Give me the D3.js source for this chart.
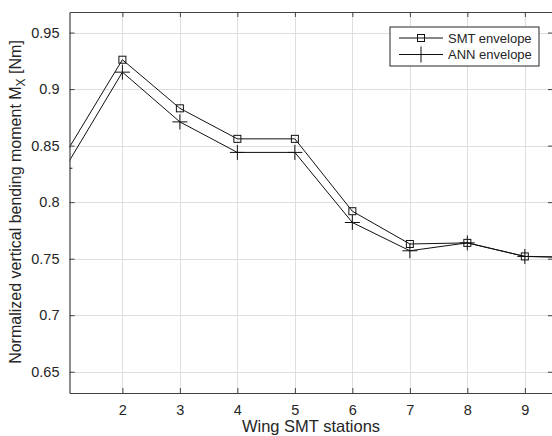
<!DOCTYPE html>
<html>
<head>
  <meta charset="utf-8">
  <title>SMT vs ANN envelope</title>
  <script src="https://d3js.org/d3.v7.min.js"></script>
  <style>
    body { margin: 0; background: #fff; }
    text { font-family: "Liberation Sans", Arial, sans-serif; fill: #262626; }
  </style>
</head>
<body>
  <script>
    // stations 1..10 (figure is cropped on both sides)
    var stations = [1, 2, 3, 4, 5, 6, 7, 8, 9, 10];
    var smtEnvelope = [0.842, 0.926, 0.883, 0.856, 0.856, 0.792, 0.763, 0.764, 0.752, 0.751];
    var annEnvelope = [0.830, 0.915, 0.871, 0.844, 0.844, 0.782, 0.757, 0.764, 0.752, 0.751];
    var xTicks = [2, 3, 4, 5, 6, 7, 8, 9];
    var yTicks = [0.65, 0.7, 0.75, 0.8, 0.85, 0.9, 0.95];

    var width = 552, height = 436;
    var pLeft = 69.5, pRight = 553, pTop = 12, pBottom = 393;

    var svg = d3.select('body').append('svg')
      .attr('width', width)
      .attr('height', height);

    var x = d3.scaleLinear().domain([1.08, 9.49]).range([pLeft, pRight]);
    var y = d3.scaleLinear().domain([0.6312, 0.9682]).range([pBottom, pTop]);

    // grid
    var grid = svg.append('g').attr('stroke', '#dedede').attr('stroke-width', 1);
    xTicks.forEach(function(t) {
      grid.append('line')
        .attr('x1', Math.round(x(t)) + 0.5).attr('x2', Math.round(x(t)) + 0.5)
        .attr('y1', pTop).attr('y2', pBottom);
    });
    yTicks.forEach(function(t) {
      grid.append('line')
        .attr('x1', pLeft).attr('x2', pRight)
        .attr('y1', Math.round(y(t)) + 0.5).attr('y2', Math.round(y(t)) + 0.5);
    });

    svg.append('defs').append('clipPath').attr('id', 'plot')
      .append('rect')
      .attr('x', pLeft).attr('y', pTop)
      .attr('width', pRight - pLeft).attr('height', pBottom - pTop);

    var plot = svg.append('g').attr('clip-path', 'url(#plot)');

    var line = d3.line()
      .x(function(d) { return x(d[0]); })
      .y(function(d) { return y(d[1]); });

    var smtData = d3.zip(stations, smtEnvelope);
    var annData = d3.zip(stations, annEnvelope);

    plot.append('path').datum(smtData)
      .attr('d', line).attr('fill', 'none')
      .attr('stroke', '#111').attr('stroke-width', 1);
    plot.append('path').datum(annData)
      .attr('d', line).attr('fill', 'none')
      .attr('stroke', '#111').attr('stroke-width', 1);

    var sq = 7, pl = 7.5;
    plot.selectAll('rect.smt').data(smtData).enter().append('rect')
      .attr('class', 'smt')
      .attr('x', function(d) { return x(d[0]) - sq / 2; })
      .attr('y', function(d) { return y(d[1]) - sq / 2; })
      .attr('width', sq).attr('height', sq)
      .attr('fill', 'none').attr('stroke', '#111').attr('stroke-width', 1);

    var plus = plot.selectAll('g.ann').data(annData).enter().append('g')
      .attr('class', 'ann')
      .attr('transform', function(d) { return 'translate(' + x(d[0]) + ',' + y(d[1]) + ')'; })
      .attr('stroke', '#111').attr('stroke-width', 1);
    plus.append('line').attr('x1', -pl).attr('x2', pl).attr('y1', 0).attr('y2', 0);
    plus.append('line').attr('x1', 0).attr('x2', 0).attr('y1', -pl).attr('y2', pl);

    // axes (matlab style box, ticks inward)
    var xAxis = d3.axisBottom(x).tickValues(xTicks).tickSizeInner(-5).tickSizeOuter(0).tickPadding(12)
      .tickFormat(d3.format('d'));
    var yAxis = d3.axisLeft(y).tickValues(yTicks).tickSizeInner(-5).tickSizeOuter(0).tickPadding(10)
      .tickFormat(function(d) { return String(+d.toFixed(2)); });

    var gx = svg.append('g').attr('transform', 'translate(0,' + pBottom + ')').call(xAxis);
    var gy = svg.append('g').attr('transform', 'translate(' + pLeft + ',0)').call(yAxis);
    var gxTop = svg.append('g').attr('transform', 'translate(0,' + pTop + ')')
      .call(d3.axisTop(x).tickValues(xTicks).tickSizeInner(-5).tickSizeOuter(0).tickFormat(''));
    var gyRight = svg.append('g').attr('transform', 'translate(' + pRight + ',0)')
      .call(d3.axisRight(y).tickValues(yTicks).tickSizeInner(-5).tickSizeOuter(0).tickFormat(''));

    [gx, gy, gxTop, gyRight].forEach(function(g) {
      g.select('.domain').attr('stroke', '#404040').attr('stroke-width', 1.2);
      g.selectAll('.tick line').attr('stroke', '#404040');
      g.selectAll('.tick text').attr('fill', '#262626')
        .style('font-size', '14.5px').style('font-family', '"Liberation Sans", Arial, sans-serif');
    });

    // axis labels
    svg.append('text')
      .attr('x', 311).attr('y', 432)
      .attr('text-anchor', 'middle')
      .style('font-size', '16.5px')
      .text('Wing SMT stations');

    var yl = svg.append('text')
      .attr('transform', 'translate(21,202) rotate(-90)')
      .attr('text-anchor', 'middle')
      .style('font-size', '16px');
    yl.append('tspan').text('Normalized vertical bending moment M');
    yl.append('tspan').attr('dy', 4).style('font-size', '12px').text('X');
    yl.append('tspan').attr('dy', -4).text(' [Nm]');

    // legend
    var lg = svg.append('g').attr('transform', 'translate(390,27)');
    lg.append('rect').attr('width', 149).attr('height', 39)
      .attr('fill', '#fff').attr('stroke', '#262626').attr('stroke-width', 1);
    var entries = [
      { name: 'SMT envelope', mark: 'square', dy: 11 },
      { name: 'ANN envelope', mark: 'plus', dy: 27.5 }
    ];
    entries.forEach(function(e) {
      var r = lg.append('g').attr('transform', 'translate(0,' + e.dy + ')');
      r.append('line').attr('x1', 9).attr('x2', 53).attr('y1', 0).attr('y2', 0)
        .attr('stroke', '#111');
      if (e.mark === 'square') {
        r.append('rect').attr('x', 31 - sq / 2).attr('y', -sq / 2)
          .attr('width', sq).attr('height', sq)
          .attr('fill', 'none').attr('stroke', '#111');
      } else {
        r.append('line').attr('x1', 31).attr('x2', 31).attr('y1', -8).attr('y2', 8)
          .attr('stroke', '#111');
      }
      r.append('text').attr('x', 58).attr('y', 4.5)
        .style('font-size', '13px').text(e.name);
    });
  </script>
</body>
</html>
